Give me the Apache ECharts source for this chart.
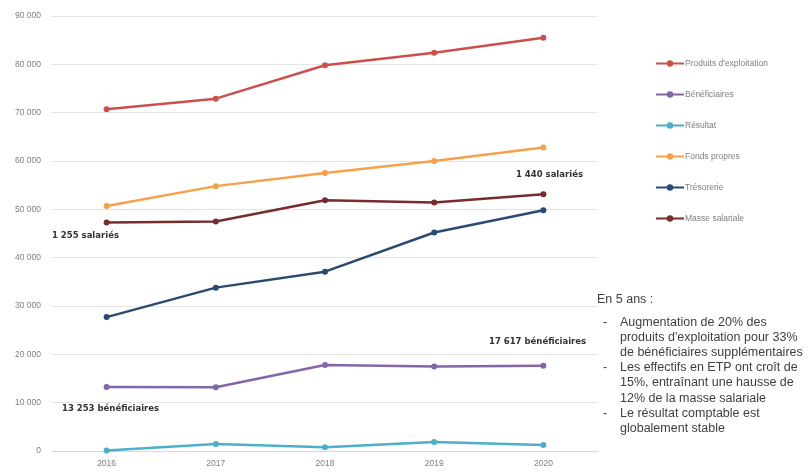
<!DOCTYPE html>
<html><head><meta charset="utf-8">
<script src="https://cdn.jsdelivr.net/npm/echarts@6/dist/echarts.min.js"></script>
<style>html,body{margin:0;padding:0;background:#fff}#c{width:810px;height:474px}</style>
</head><body><div id="c"></div>
<script>
const years = ['2016','2017','2018','2019','2020'];
const produits = [70700, 72900, 79800, 82400, 85500];
const beneficiaires = [13253, 13200, 17800, 17500, 17617];
const resultat = [100, 1450, 800, 1850, 1250];
const fondsPropres = [50700, 54800, 57500, 60000, 62800];
const tresorerie = [27700, 33800, 37100, 45200, 49800];
const masseSalariale = [47300, 47500, 51900, 51400, 53100];
const yTicks = [0, 10000, 20000, 30000, 40000, 50000, 60000, 70000, 80000, 90000];

const seriesDefs = [
  ['Produits d\'exploitation', produits, '#c9504d'],
  ['Bénéficiaires', beneficiaires, '#8466a8'],
  ['Résultat', resultat, '#4bb0c8'],
  ['Fonds propres', fondsPropres, '#f7a04a'],
  ['Trésorerie', tresorerie, '#2a4a72'],
  ['Masse salariale', masseSalariale, '#772c2e']
];

const chart = echarts.init(document.getElementById('c'));
const fmt = v => String(v).replace(/\B(?=(\d{3})+(?!\d))/g, ' ');
const annotStyle = {fontFamily:'DejaVu Sans', fontSize:8.5, fontWeight:'bold', fill:'#333'};
const bodyStyle = {fontFamily:'Liberation Sans', fontSize:12.5, fill:'#404040'};
chart.setOption({
  animation:false,
  backgroundColor:'#fff',
  grid:{left:52, right:212, top:16, bottom:23},
  xAxis:{type:'category', data:years, boundaryGap:true,
    axisLine:{lineStyle:{color:'#d9d9d9'}}, axisTick:{show:false},
    axisLabel:{color:'#7f7f7f', fontSize:8.5, fontFamily:'Liberation Sans', margin:8}},
  yAxis:{type:'value', min:yTicks[0], max:yTicks[yTicks.length-1], interval:10000,
    axisLine:{show:false}, axisTick:{show:false},
    splitLine:{lineStyle:{color:'#e4e4e4', width:1}},
    axisLabel:{color:'#7f7f7f', fontSize:8.5, fontFamily:'Liberation Sans', margin:11, formatter:fmt}},
  legend:{orient:'vertical', left:650, top:54, itemGap:22, itemWidth:28, itemHeight:8,
    textStyle:{color:'#7f7f7f', fontSize:8.5, fontFamily:'Liberation Sans', padding:[0,0,0,-4]},
    data:seriesDefs.map(d=>d[0])},
  series:seriesDefs.map(d=>({name:d[0], type:'line', data:d[1], color:d[2],
    symbol:'circle', symbolSize:6, lineStyle:{width:2.5, color:d[2]}, itemStyle:{color:d[2]}})),
  graphic:[
    {type:'text', left:52, top:231, style:Object.assign({text:'1 255 salariés'}, annotStyle)},
    {type:'text', left:516, top:170, style:Object.assign({text:'1 440 salariés'}, annotStyle)},
    {type:'text', left:489, top:337, style:Object.assign({text:'17 617 bénéficiaires'}, annotStyle)},
    {type:'text', left:62, top:404, style:Object.assign({text:'13 253 bénéficiaires'}, annotStyle)},
    {type:'text', left:597, top:293, style:Object.assign({text:'En 5 ans :'}, bodyStyle)},
    {type:'text', left:603, top:315, style:Object.assign({text:'-\n\n\n-\n\n\n-', lineHeight:15.1}, bodyStyle)},
    {type:'text', left:620, top:315, style:Object.assign({text:'Augmentation de 20% des\nproduits d\'exploitation pour 33%\nde bénéficiaires supplémentaires\nLes effectifs en ETP ont croît de\n15%, entraînant une hausse de\n12% de la masse salariale\nLe résultat comptable est\nglobalement stable', lineHeight:15.1}, bodyStyle)}
  ]
});
</script></body></html>
